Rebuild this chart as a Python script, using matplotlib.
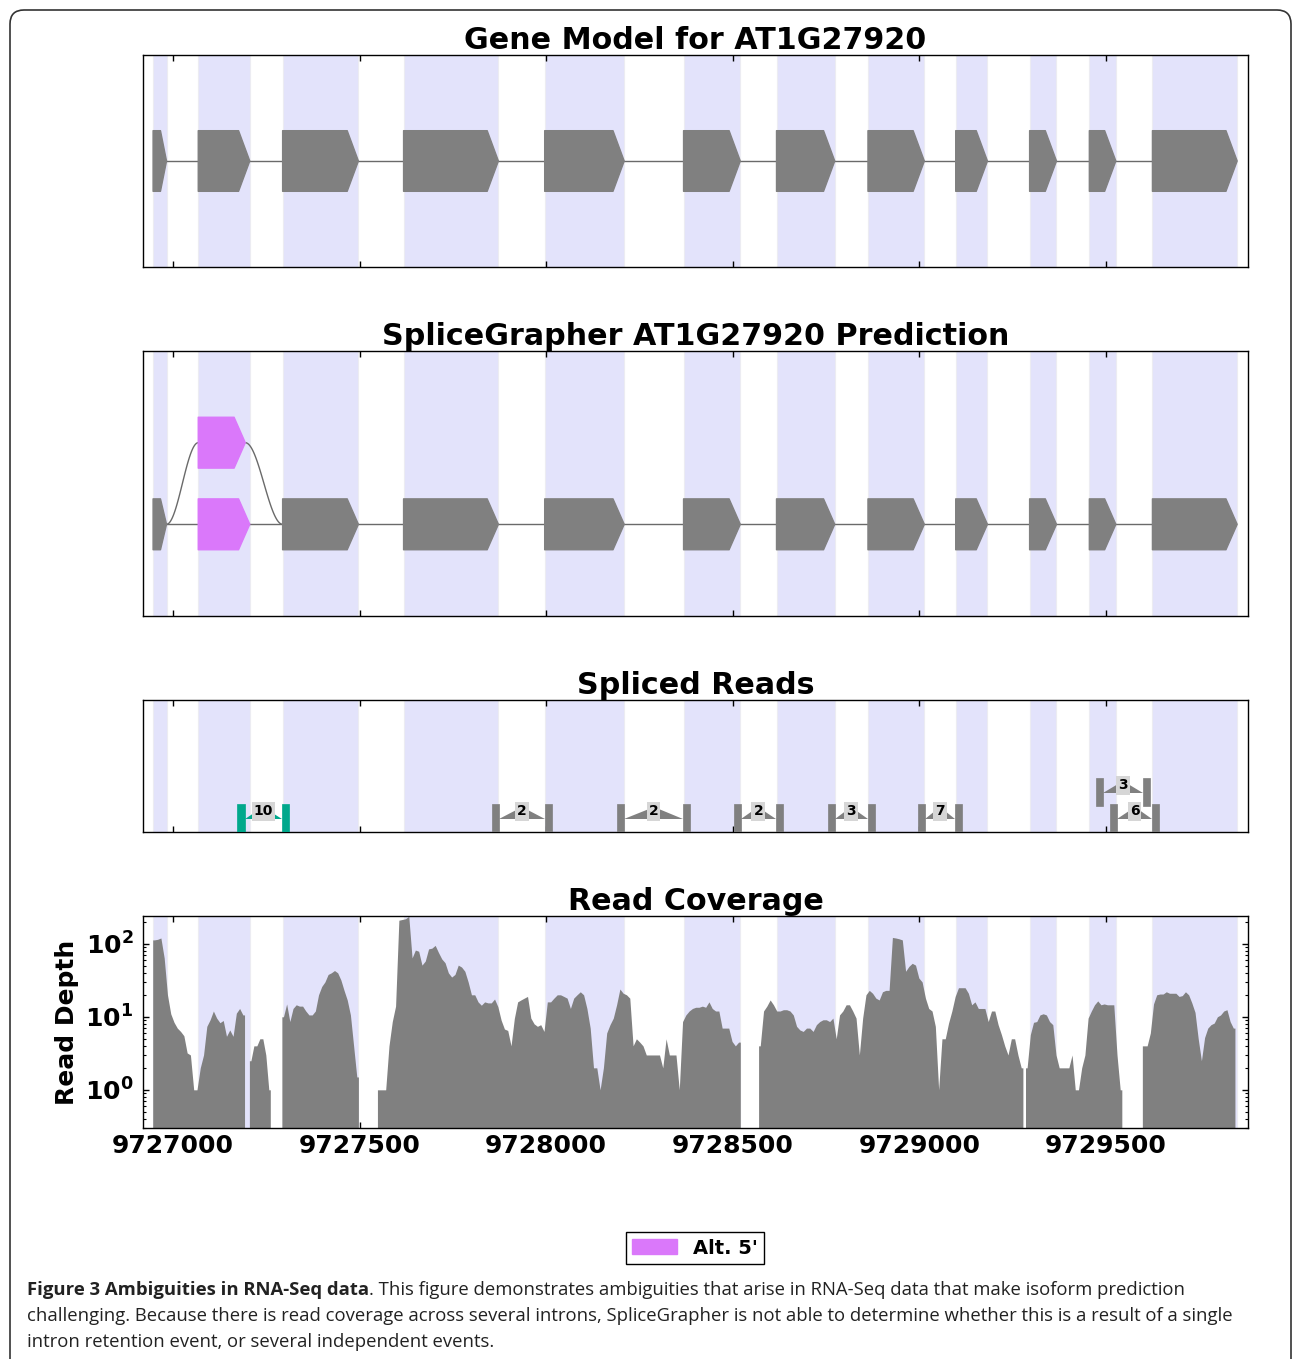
import matplotlib
matplotlib.use('Agg')
import matplotlib.pyplot as plt
import numpy as np
from matplotlib.patches import Polygon, Rectangle, FancyBboxPatch, Patch
from matplotlib.transforms import IdentityTransform
from matplotlib.ticker import FixedLocator, FuncFormatter, NullFormatter

plt.rcParams['font.family'] = ['DejaVu Sans']
plt.rcParams['font.weight'] = 'bold'

# ---- gene model (bp) ----
exon_starts = [9726947, 9727068, 9727294, 9727618, 9727996, 9728368,
               9728617, 9728862, 9729097, 9729295, 9729455, 9729624]
exon_ends = [9726983, 9727206, 9727497, 9727872, 9728209, 9728520,
             9728773, 9729013, 9729182, 9729367, 9729526, 9729851]
alt5_start = 9727068
alt5_end = 9727194

# ---- spliced reads ----
junc_donor = [9727192, 9727873, 9728209, 9728521, 9728774, 9729014, 9729492, 9729530]
junc_accept = [9727293, 9727996, 9728366, 9728616, 9728861, 9729094, 9729598, 9729622]
junc_count = [10, 2, 2, 2, 3, 7, 3, 6]
junc_level = [0, 0, 0, 0, 0, 0, 1, 0]
junc_alt = [True, False, False, False, False, False, False, False]

cov_start = [9726946, 9727205, 9727292, 9727548, 9728569, 9729284, 9729597]
cov_end = [9727192, 9727261, 9727497, 9728520, 9729277, 9729542, 9729845]
cov1 = [113, 115, 120, 64, 20, 11, 8.4, 7, 6.3, 5.5, 3.2, 3, 1, 1, 2, 3, 7.4, 9.1,
        12, 9.6, 8.3, 8.9, 5.4, 6.6, 5.4, 11.2, 13, 10.6]
cov2 = [2.5, 4, 4, 5, 5, 3, 1]
cov3 = [10, 15, 8.6, 13, 14.6, 14, 14, 12, 10.6, 10.6, 12, 20, 26, 30, 38, 40, 43,
        40, 32, 23, 17, 10.6, 4, 1.5]
cov4 = [1, 1, 1, 4, 8.6, 14, 210, 215, 220, 237, 64, 82, 79, 51, 58, 85, 87, 95, 76,
        62, 55, 40, 35, 38, 51, 48, 42, 30, 20, 20, 16, 14.4, 16, 15.5, 15.5, 17.5,
        13.8, 9, 6.8, 6.5, 4, 9.5, 16, 17,
        18, 19, 9.6, 8, 7.4, 7.8, 6.3, 16, 16, 18, 20, 20, 19, 18, 13, 18, 20, 22, 20,
        13, 7, 2, 2, 1, 2, 6, 7.8, 9.6, 14.6, 24, 21, 20, 18, 4, 5, 4.5, 4, 3, 3, 3,
        3, 3, 2, 5, 3, 3, 3, 1, 8.6, 10.6, 12, 13, 13.5, 13.5, 14, 13.5, 16, 13, 12,
        12, 7, 7, 7, 4.6, 4, 4.5]
cov5 = [4, 12, 14, 17, 14.6, 12, 12, 12.5, 12.5, 12, 10.6, 7.4, 6.6, 6.3, 7, 7, 6.3,
        7.8, 8.6, 9.1, 9.1, 8.6, 9.6, 5, 10.6, 12, 14.6, 14.6, 12, 9.6, 3, 9.6, 20, 23,
        21, 18, 17, 22, 23, 23,
        122, 120, 117, 113, 42, 49, 54, 51, 34, 30, 18, 13, 12, 7.4, 1, 5, 5, 8.2, 12,
        19, 25, 25, 25, 21, 14.6, 16, 13, 13, 13, 8.6, 12, 12, 7.8, 5.7, 4, 3, 5, 5,
        3, 2]
cov6 = [2, 5.7, 8.4, 8.6, 10.6, 11, 10.6, 8.6, 7.8, 3, 2, 2, 2, 2, 3, 1, 1, 2, 3, 9.6,
        12, 14.6, 16.5, 14.6, 15, 14.6, 14.6, 14.6, 3, 1]
cov7 = [4, 4, 6, 15, 20, 20.5, 20.5, 22, 21, 21, 21, 19, 19.5, 22, 20, 15.5, 11.5, 5,
        2.5, 5.2, 7, 7.8, 8.2, 10, 10.6, 12, 12.5, 8.6, 7]
cov_blocks = [cov1, cov2, cov3, cov4, cov5, cov6, cov7]

xticks = [9727000, 9727500, 9728000, 9728500, 9729000, 9729500]

GRAY = '#808080'
SHADE = '#e3e3fb'
ALT = '#da78fa'
TEAL = '#00a88c'

W, H = 1293, 1359
fig = plt.figure(figsize=(W / 100, H / 100), dpi=100)


def box(top, bottom):
    return [143 / W, 1 - bottom / H, 1105 / W, (bottom - top) / H]


def setup(ax, title):
    ax.set_xlim(9726920, 9729880)
    for s, e in zip(exon_starts, exon_ends):
        ax.axvspan(s, e, color=SHADE, ec='#ececf2', lw=0.8, zorder=0)
    ax.xaxis.set_major_locator(FixedLocator(xticks))
    ax.tick_params(axis='both', which='both', direction='in', top=True, right=True)
    ax.tick_params(which='major', length=4, width=1)
    ax.tick_params(which='minor', length=2, width=0.8)
    ax.set_title(title, fontsize=21.7, fontweight='bold', pad=4)
    for sp in ax.spines.values():
        sp.set_linewidth(1)


def exon(ax, s, e, yc, hh, color):
    a = min(30, 0.45 * (e - s))
    pts = [(s, yc - hh), (e - a, yc - hh), (e, yc), (e - a, yc + hh), (s, yc + hh)]
    ax.add_patch(Polygon(pts, closed=True, fc=color, ec=color, lw=1,
                         joinstyle='round', zorder=3))


# ---- panel 1: gene model ----
ax1 = fig.add_axes(box(55, 267))
setup(ax1, 'Gene Model for AT1G27920')
ax1.set_ylim(0, 1)
ax1.set_yticks([])
ax1.set_xticklabels([])
ax1.plot([exon_ends[0], exon_starts[-1]], [0.5, 0.5], color='#6a6a6a', lw=1, zorder=2)
for s, e in zip(exon_starts, exon_ends):
    exon(ax1, s, e, 0.5, 0.143, GRAY)

# ---- panel 2: prediction ----
ax2 = fig.add_axes(box(351, 616))
setup(ax2, 'SpliceGrapher AT1G27920 Prediction')
ax2.set_ylim(0, 1)
ax2.set_yticks([])
ax2.set_xticklabels([])
ylo, yhi, hh2 = 0.346, 0.654, 0.096
ax2.plot([exon_ends[0], exon_starts[-1]], [ylo, ylo], color='#6a6a6a', lw=1, zorder=2)
t = np.linspace(0, 1, 60)
sig = (1 - np.cos(np.pi * t)) / 2
ax2.plot(exon_ends[0] + (alt5_start - exon_ends[0]) * t, ylo + (yhi - ylo) * sig,
         color='#6a6a6a', lw=1, zorder=2)
ax2.plot(alt5_end + (exon_starts[2] - alt5_end) * t, yhi - (yhi - ylo) * sig,
         color='#6a6a6a', lw=1, zorder=2)
for i, (s, e) in enumerate(zip(exon_starts, exon_ends)):
    exon(ax2, s, e, ylo, hh2, ALT if i == 1 else GRAY)
exon(ax2, alt5_start, alt5_end, yhi, hh2, ALT)

# ---- panel 3: spliced reads ----
ax3 = fig.add_axes(box(700, 832))
setup(ax3, 'Spliced Reads')
ax3.set_ylim(0, 1)
ax3.set_yticks([])
ax3.set_xticklabels([])
bw, bh = 19, 0.21
for d, a, c, lv, alt in zip(junc_donor, junc_accept, junc_count, junc_level, junc_alt):
    col = TEAL if alt else GRAY
    y0 = lv * 0.197
    mid = (d + a) / 2
    ax3.add_patch(Rectangle((d - bw, y0), bw, bh, fc=col, ec=col, lw=0.5, zorder=3))
    ax3.add_patch(Rectangle((a, y0), bw, bh, fc=col, ec=col, lw=0.5, zorder=3))
    ax3.add_patch(Polygon([(d, y0 + 0.47 * bh), (mid, y0 + 0.47 * bh), (mid, y0 + 0.9 * bh)],
                          fc=col, ec='none', zorder=3))
    ax3.add_patch(Polygon([(a, y0 + 0.47 * bh), (mid, y0 + 0.47 * bh), (mid, y0 + 0.9 * bh)],
                          fc=col, ec='none', zorder=3))
    ax3.text(mid, y0 + 0.74 * bh, str(c), ha='center', va='center', fontsize=10,
             fontweight='bold', zorder=5,
             bbox=dict(boxstyle='square,pad=0.15', fc='#d6d6d6', ec='none'))

# ---- panel 4: coverage ----
ax4 = fig.add_axes(box(916, 1128))
ax4.set_yscale('log')
setup(ax4, 'Read Coverage')
for s, e, vals in zip(cov_start, cov_end, cov_blocks):
    n = len(vals)
    step = (e - s) / n
    xs = np.r_[s, s + step * (np.arange(n) + 0.5), e]
    ys = np.r_[vals[0], vals, vals[-1]]
    ax4.fill_between(xs, ys, 1e-3, color=GRAY, lw=0, zorder=2)
ax4.set_ylim(0.3, 240)
ax4.yaxis.set_major_formatter(FuncFormatter(lambda v, p: r'$\mathbf{10^{%d}}$' % round(np.log10(v))))
ax4.yaxis.set_minor_formatter(NullFormatter())
ax4.set_xticklabels([str(v) for v in xticks], fontsize=18, fontweight='bold')
ax4.tick_params(axis='y', labelsize=18, pad=7)
ax4.tick_params(axis='x', pad=4)
ax4.set_ylabel('Read Depth', fontsize=18, fontweight='bold', labelpad=4)

# ---- legend ----
leg = fig.legend(handles=[Patch(fc=ALT, ec=ALT)], labels=["Alt. 5'"], loc='center',
                 bbox_to_anchor=(695 / W, 1 - 1248 / H), prop=dict(weight='bold', size=14),
                 fancybox=False, edgecolor='black', handlelength=2.3, handleheight=0.8,
                 borderpad=0.35, framealpha=1)
leg.get_frame().set_linewidth(1)

# ---- frame and caption ----
fig.patches.append(FancyBboxPatch((10, -30), 1281, H - 10 + 30,
                                  boxstyle='round,pad=0,rounding_size=14',
                                  transform=IdentityTransform(), fc='none',
                                  ec='#333333', lw=1.2, figure=fig))

cap_kw = dict(family='Open Sans', fontsize=13.3, color='#222222', va='center')
b = fig.text(27 / W, 1 - 1290 / H, 'Figure 3 Ambiguities in RNA-Seq data',
             fontweight='bold', **cap_kw)
fig.canvas.draw()
bb = b.get_window_extent()
fig.text(bb.x1 / W, 1 - 1290 / H,
         '. This figure demonstrates ambiguities that arise in RNA-Seq data that make isoform prediction',
         fontweight='normal', **cap_kw)
fig.text(27 / W, 1 - 1316 / H,
         'challenging. Because there is read coverage across several introns, SpliceGrapher is not able '
         'to determine whether this is a result of a single', fontweight='normal', **cap_kw)
fig.text(27 / W, 1 - 1342 / H, 'intron retention event, or several independent events.',
         fontweight='normal', **cap_kw)

plt.savefig('out.png', dpi=100)
